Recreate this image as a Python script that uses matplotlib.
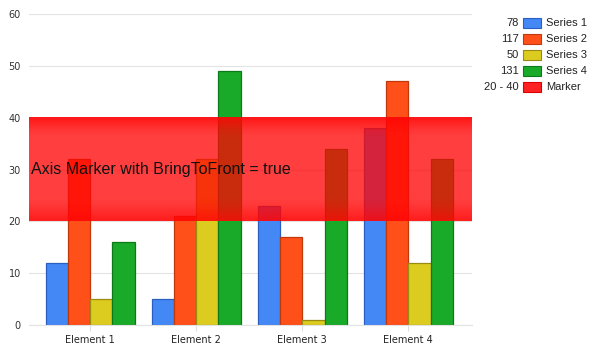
import numpy as np
import matplotlib
matplotlib.use("Agg")
import matplotlib.pyplot as plt
from matplotlib.patches import Rectangle

categories = ["Element 1", "Element 2", "Element 3", "Element 4"]
series_names = ["Series 1", "Series 2", "Series 3", "Series 4"]
series_1 = [12, 5, 23, 38]
series_2 = [32, 21, 17, 47]
series_3 = [5, 32, 1, 12]
series_4 = [16, 49, 34, 32]
marker_range = (20, 40)
marker_label = "Axis Marker with BringToFront = true"
y_ticks = [0, 10, 20, 30, 40, 50, 60]

fills = ["#4488F5", "#FF5019", "#DDCC20", "#1AAA2A"]
edges = ["#2A5FBF", "#C0380C", "#9A8A10", "#0B7A18"]

fig = plt.figure(figsize=(5.93, 3.51), dpi=100)
ax = fig.add_axes((0.049, 0.074, 0.747, 0.886))

x = np.arange(len(categories))
width = 0.21
all_series = [series_1, series_2, series_3, series_4]
for i, vals in enumerate(all_series):
    ax.bar(x + (i - 1.5) * width, vals, width, color=fills[i],
           edgecolor=edges[i], linewidth=0.9, zorder=2)

ax.set_xlim(-0.575, 3.6)
ax.set_ylim(0, 60)
ax.set_yticks(y_ticks)
ax.set_xticks(x)
ax.set_xticklabels(categories)
ax.grid(axis="y", color="#E3E3E3", linewidth=0.8, zorder=0)
for s in ["top", "right", "left"]:
    ax.spines[s].set_visible(False)
ax.spines["bottom"].set_color("#E3E3E3")
ax.tick_params(axis="y", length=0, labelsize=7, colors="#333333", pad=6)
ax.tick_params(axis="x", length=4, color="#DDDDDD", labelsize=7,
               labelcolor="#222222", pad=3)

# marker band: translucent red, a bit denser at the top and bottom edges
alpha_profile = np.array([0.92, 0.86, 0.81, 0.78] + [0.77] * 12 +
                         [0.79, 0.82, 0.86, 0.9])
band = np.zeros((alpha_profile.size, 1, 4))
band[:, 0, 0] = 1.0
band[:, 0, 1] = 0.02
band[:, 0, 2] = 0.02
band[:, 0, 3] = alpha_profile
lo, hi = marker_range
xl = ax.get_xlim()
ax.imshow(band, extent=(xl[0], xl[1], lo, hi), aspect="auto",
          interpolation="bilinear", zorder=5)
ax.set_xlim(xl)
ax.set_ylim(0, 60)
ax.text(xl[0] + 0.02, (lo + hi) / 2, marker_label, fontsize=11.5,
        family="Liberation Sans", color="#111111", va="center", ha="left",
        zorder=6)

# legend drawn by hand: value, colour box, name
totals = [sum(v) for v in all_series]
legend_vals = [str(t) for t in totals] + [f"{lo} - {hi}"]
legend_names = series_names + ["Marker"]
legend_fills = fills + ["#FF2222"]
legend_edges = edges + ["#DD0000"]
W, H = 593, 351
for j, (val, name) in enumerate(zip(legend_vals, legend_names)):
    yc = 23 + j * 16.1
    fig.text(519 / W, 1 - yc / H, val, ha="right", va="center",
             fontsize=8, family="Liberation Sans", color="#222222")
    fig.patches.append(Rectangle((523 / W, 1 - (yc + 5) / H), 18 / W, 10 / H,
                                 transform=fig.transFigure,
                                 facecolor=legend_fills[j],
                                 edgecolor=legend_edges[j], linewidth=0.8))
    fig.text(546 / W, 1 - yc / H, name, ha="left", va="center",
             fontsize=8, family="Liberation Sans", color="#222222")

fig.savefig("out.png", dpi=100, facecolor="white")
